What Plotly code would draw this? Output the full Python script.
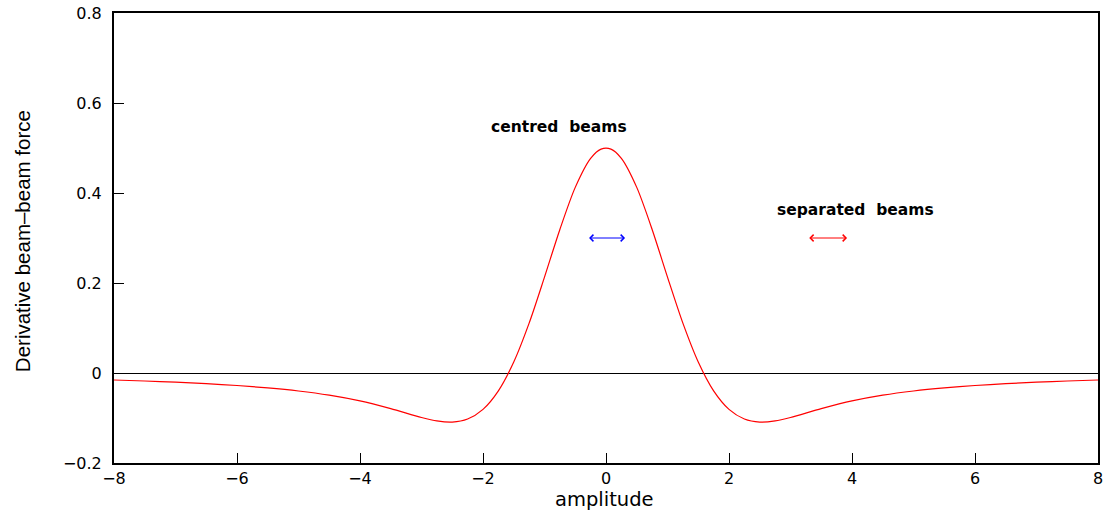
import plotly.graph_objects as go

amplitude = [-8, -7.5, -7, -6.5, -6, -5.5, -5, -4.5, -4, -3.5, -3, -2.75, -2.5, -2.25, -2,
             -1.75, -1.5, -1.25, -1, -0.75, -0.5, -0.25, -0.08,
             0.08, 0.25, 0.5, 0.75, 1, 1.25, 1.5, 1.75, 2, 2.25, 2.5, 2.75, 3, 3.5, 4,
             4.5, 5, 5.5, 6, 6.5, 7, 7.5, 8]
derivative = [-0.0156, -0.0178, -0.0204, -0.0237, -0.0278, -0.0331, -0.0400, -0.0493, -0.0621,
              -0.0793, -0.0988, -0.1064, -0.1090, -0.1023, -0.0808,
              -0.0396, 0.0245, 0.1108, 0.2131, 0.3190, 0.4125, 0.4770, 0.4976,
              0.4976, 0.4770, 0.4125, 0.3190, 0.2131, 0.1108, 0.0245, -0.0396, -0.0808,
              -0.1023, -0.1090, -0.1064, -0.0988, -0.0793, -0.0621, -0.0493, -0.0400,
              -0.0331, -0.0278, -0.0237, -0.0204, -0.0178, -0.0156]

x_ticks = [-8, -6, -4, -2, 0, 2, 4, 6, 8]
y_ticks = [-0.2, 0, 0.2, 0.4, 0.6, 0.8]
y_tick_labels = ["\u22120.2", "0", "0.2", "0.4", "0.6", "0.8"]
x_tick_labels = ["\u22128", "\u22126", "\u22124", "\u22122", "0", "2", "4", "6", "8"]

x_title = "amplitude"
y_title = "Derivative beam\u2013beam force"

labels = ["centred  beams", "separated  beams"]
label_x = [-0.76, 4.05]
label_y = [0.547, 0.362]
arrow_x0 = [-0.3, 3.28]
arrow_x1 = [0.31, 3.92]
arrow_y = [0.3, 0.3]
arrow_colors = ["blue", "red"]

fig = go.Figure()
fig.add_trace(go.Scatter(x=amplitude, y=derivative, mode="lines",
                         line=dict(color="red", width=1.2, shape="spline", smoothing=0.8),
                         showlegend=False, hoverinfo="skip"))

for t, x, y in zip(labels, label_x, label_y):
    fig.add_annotation(x=x, y=y, text=f"<b>{t}</b>", showarrow=False,
                       font=dict(family="DejaVu Sans", size=15.5, color="black"))

for x0, x1, y, c in zip(arrow_x0, arrow_x1, arrow_y, arrow_colors):
    fig.add_annotation(x=x1, y=y, ax=x0, ay=y, axref="x", ayref="y", xref="x", yref="y",
                       text="", showarrow=True, arrowhead=4, startarrowhead=4,
                       arrowside="end+start", arrowsize=1.3, startarrowsize=1.3,
                       arrowwidth=1, arrowcolor=c)

# axis titles
fig.add_annotation(x=0.498, y=-0.08, xref="paper", yref="paper", text=x_title,
                   showarrow=False, xanchor="center", yanchor="middle",
                   font=dict(family="DejaVu Sans", size=19.5, color="black"))
fig.add_annotation(x=-0.0935, y=0.493, xref="paper", yref="paper", text=y_title,
                   showarrow=False, xanchor="center", yanchor="middle", textangle=-90,
                   font=dict(family="Liberation Sans, Arial", size=20.5, color="black"))

axis_font = dict(family="DejaVu Sans", size=16, color="black")
fig.update_xaxes(range=[-8, 8], tickvals=x_ticks, ticktext=x_tick_labels,
                 ticks="inside", ticklen=10, tickwidth=1, tickcolor="black",
                 ticklabelstandoff=0,
                 showline=True, linecolor="black", linewidth=2, mirror=True,
                 showgrid=False, zeroline=False, tickfont=axis_font, automargin=False)
fig.update_yaxes(range=[-0.2, 0.8], tickvals=y_ticks, ticktext=y_tick_labels,
                 ticks="inside", ticklen=10, tickwidth=1, tickcolor="black",
                 ticklabelstandoff=7,
                 showline=True, linecolor="black", linewidth=2, mirror=True,
                 showgrid=False, zeroline=True, zerolinecolor="black", zerolinewidth=1,
                 tickfont=axis_font, automargin=False)

fig.update_layout(width=1107, height=512, plot_bgcolor="white", paper_bgcolor="white",
                  margin=dict(l=114, r=9, t=13, b=49), showlegend=False)

fig.write_html("out.html")
